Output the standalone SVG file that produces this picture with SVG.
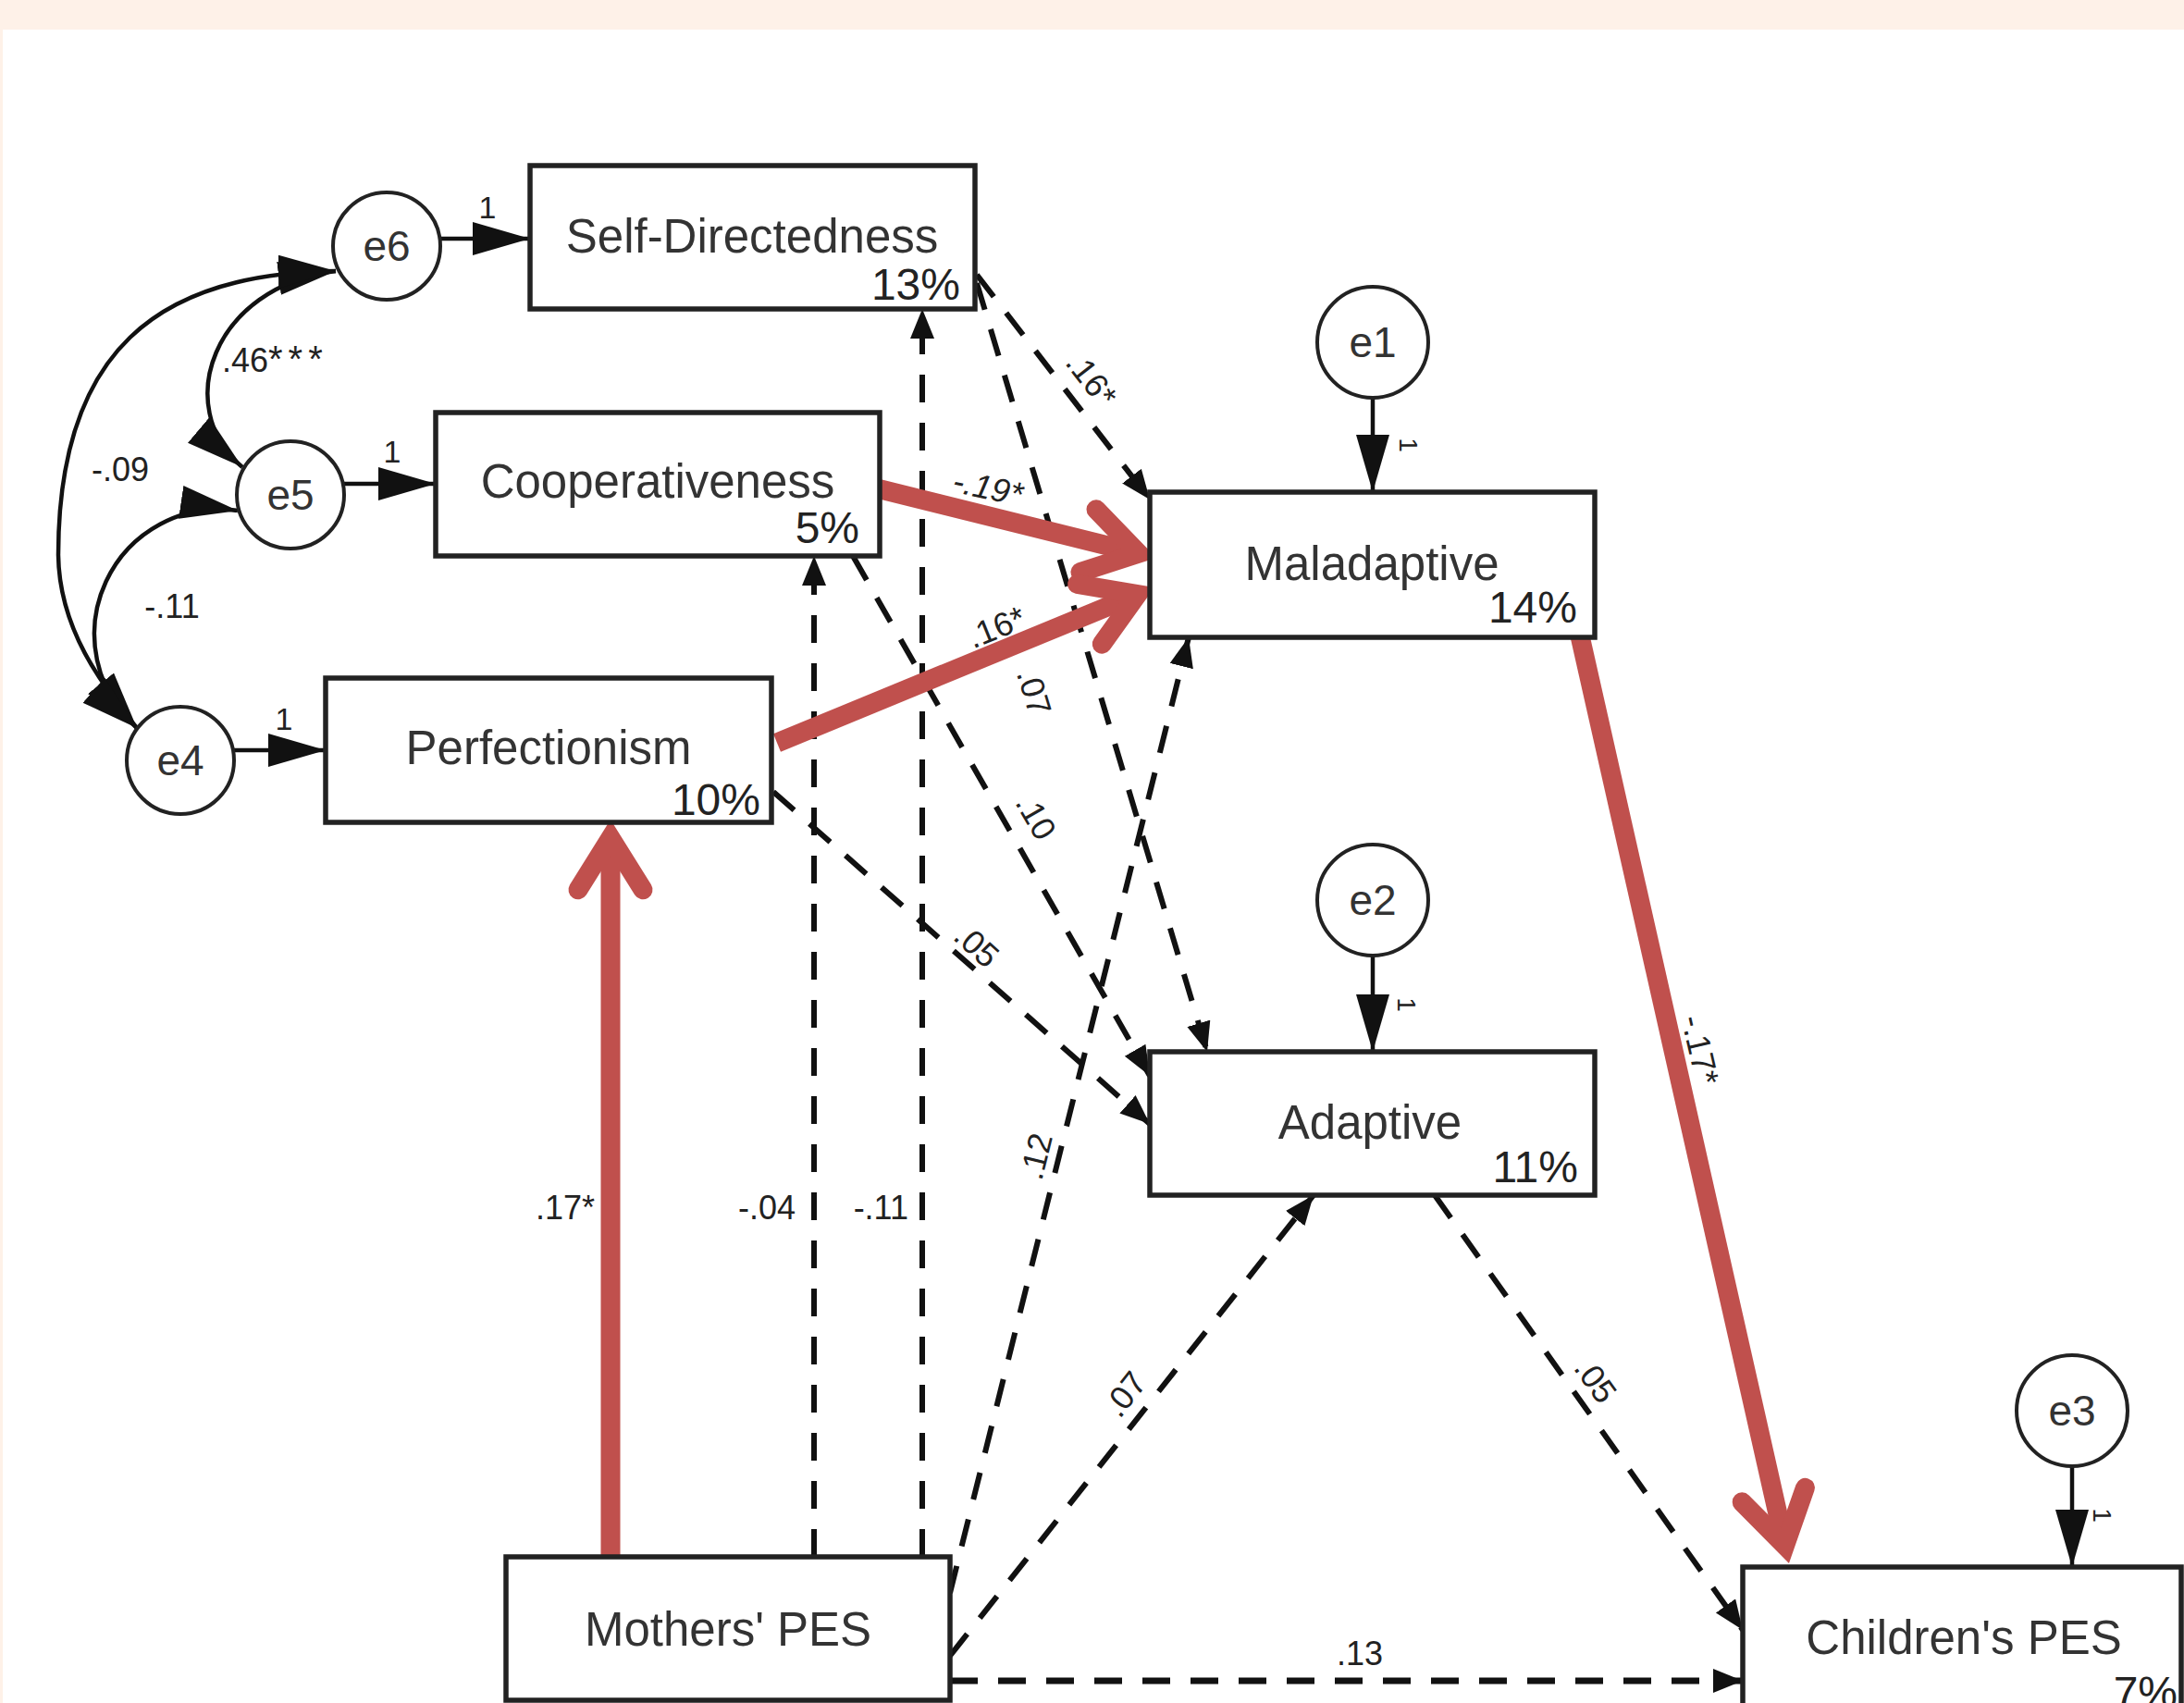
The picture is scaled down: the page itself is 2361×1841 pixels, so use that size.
<svg xmlns="http://www.w3.org/2000/svg" width="2361" height="1841" viewBox="0 0 2361 1841">
<defs>
<style>
.box{fill:#fff;stroke:#222;stroke-width:5.5}
.err{fill:#fff;stroke:#222;stroke-width:4}
.nl{font-family:"Liberation Sans",Arial,sans-serif;font-size:51px;fill:#333;text-anchor:middle}
.pc{font-family:"Liberation Sans",Arial,sans-serif;font-size:48px;fill:#222;text-anchor:end}
.el{font-family:"Liberation Sans",Arial,sans-serif;font-size:46px;fill:#333;text-anchor:middle}
.lb{font-family:"Liberation Sans",Arial,sans-serif;font-size:36px;fill:#222}
.rl{font-family:"Liberation Sans",Arial,sans-serif;font-size:36px;fill:#222;text-anchor:middle;dominant-baseline:central}
.solid{fill:none;stroke:#111;stroke-width:4.5}
.dash{fill:none;stroke:#111;stroke-width:6;stroke-dasharray:30 22}
.red{fill:none;stroke:#C0504D;stroke-width:21}
.chev{fill:none;stroke:#C0504D;stroke-width:21;stroke-linecap:round;stroke-linejoin:miter}
</style>
<marker id="big" markerUnits="userSpaceOnUse" markerWidth="66" markerHeight="38" refX="62" refY="18" orient="auto-start-reverse" viewBox="0 0 66 38">
<path d="M0,0 L62,18 L0,36 z" fill="#111"/>
</marker>
<marker id="sm" markerUnits="userSpaceOnUse" markerWidth="34" markerHeight="28" refX="32" refY="13" orient="auto" viewBox="0 0 34 28">
<path d="M0,0 L32,13 L0,26 z" fill="#111"/>
</marker>
</defs>
<rect x="0" y="0" width="2361" height="1841" fill="#fff"/>
<rect x="0" y="0" width="2361" height="32" fill="#FEF1E8"/>
<rect x="0" y="0" width="3" height="1841" fill="#FEF1E8"/>

<g id="connectors">
<!-- error to indicator -->
<line class="solid" x1="476" y1="258" x2="573" y2="258" marker-end="url(#big)"/>
<line class="solid" x1="372" y1="523" x2="471" y2="523" marker-end="url(#big)"/>
<line class="solid" x1="253" y1="811" x2="352" y2="811" marker-end="url(#big)"/>
<line class="solid" x1="1484" y1="430" x2="1484" y2="532" marker-end="url(#big)"/>
<line class="solid" x1="1484" y1="1033" x2="1484" y2="1137" marker-end="url(#big)"/>
<line class="solid" x1="2240" y1="1585" x2="2240" y2="1694" marker-end="url(#big)"/>
<!-- covariances -->
<path class="solid" d="M363,293 C230,310 185,440 262,505" marker-start="url(#big)" marker-end="url(#big)"/>
<path class="solid" d="M363,293 C170,295 63,380 63,600 C64,680 110,740 148,787" marker-start="url(#big)" marker-end="url(#big)"/>
<path class="solid" d="M257,552 A135,135 0 0 0 148,787" marker-start="url(#big)" marker-end="url(#big)"/>
<!-- dashed paths -->
<line class="dash" x1="1056" y1="297" x2="1243" y2="540" marker-end="url(#sm)"/>
<line class="dash" x1="1056" y1="306" x2="1305" y2="1137" marker-end="url(#sm)"/>
<line class="dash" x1="922" y1="601" x2="1243" y2="1163" marker-end="url(#sm)"/>
<line class="dash" x1="836" y1="856" x2="1243" y2="1215" marker-end="url(#sm)"/>
<line class="dash" x1="880" y1="1683" x2="880" y2="601" marker-end="url(#sm)"/>
<line class="dash" x1="997" y1="1683" x2="997" y2="334" marker-end="url(#sm)"/>
<line class="dash" x1="1027" y1="1722" x2="1285" y2="689" marker-end="url(#sm)"/>
<line class="dash" x1="1027" y1="1790" x2="1420" y2="1292" marker-end="url(#sm)"/>
<line class="dash" x1="1027" y1="1817" x2="1884" y2="1817" marker-end="url(#sm)" style="stroke-width:7"/>
<line class="dash" x1="1551" y1="1292" x2="1884" y2="1762" marker-end="url(#sm)"/>
<!-- red significant paths -->
<line class="red" x1="948" y1="528" x2="1230.8" y2="598.2"/>
<polyline class="chev" points="1185,550.7 1230.8,598.2 1168,618.5"/>
<line class="red" x1="840" y1="803" x2="1229.7" y2="642.5"/>
<polyline class="chev" points="1164.6,631.5 1229.7,642.5 1191.3,696.2"/>
<line class="red" x1="660" y1="1685" x2="660" y2="905.8"/>
<polyline class="chev" points="625,961.8 660,905.8 695,961.8"/>
<line class="red" x1="1707" y1="683" x2="1929.6" y2="1670.7"/>
<polyline class="chev" points="1951.4,1608.4 1929.6,1670.7 1883.2,1623.8"/>
<!-- labels -->
<text class="lb" x="527" y="236" text-anchor="middle" style="font-size:34px">1</text>
<text class="lb" x="424" y="500" text-anchor="middle" style="font-size:34px">1</text>
<text class="lb" x="307" y="789" text-anchor="middle" style="font-size:34px">1</text>
<text class="rl" transform="translate(1522,481) rotate(90)" style="font-size:28px">1</text>
<text class="rl" transform="translate(1520,1086) rotate(90)" style="font-size:28px">1</text>
<text class="rl" transform="translate(2272,1638) rotate(90)" style="font-size:28px">1</text>
<text class="lb" x="240" y="402">.46<tspan style="font-size:40px;letter-spacing:6px">***</tspan></text>
<text class="lb" x="130" y="520" text-anchor="middle">-.09</text>
<text class="lb" x="186" y="668" text-anchor="middle">-.11</text>
<text class="rl" transform="translate(1180,410) rotate(52)">.16*</text>
<text class="rl" transform="translate(1118,748) rotate(73)">.07</text>
<text class="rl" transform="translate(1120,883) rotate(60)">.10</text>
<text class="rl" transform="translate(1056,1022) rotate(42)">.05</text>
<text class="lb" x="860" y="1318" text-anchor="end">-.04</text>
<text class="lb" x="982" y="1318" text-anchor="end">-.11</text>
<text class="lb" x="643" y="1318" text-anchor="end">.17*</text>
<text class="rl" transform="translate(1120,1250) rotate(-76)">.12</text>
<text class="rl" transform="translate(1216,1507) rotate(-52)">.07</text>
<text class="lb" x="1470" y="1800" text-anchor="middle">.13</text>
<text class="rl" transform="translate(1725,1492) rotate(54)">.05</text>
<text class="rl" transform="translate(1068,527) rotate(12)" style="font-style:italic">-.19*</text>
<text class="rl" transform="translate(1077,678) rotate(-22)">.16*</text>
<text class="rl" transform="translate(1838,1135) rotate(77)">-.17*</text>
</g>

<g id="e6"><circle class="err" cx="418" cy="266" r="58"/><text class="el" x="418" y="282">e6</text></g>
<g id="e5"><circle class="err" cx="314" cy="535" r="58"/><text class="el" x="314" y="551">e5</text></g>
<g id="e4"><circle class="err" cx="195" cy="822" r="58"/><text class="el" x="195" y="838">e4</text></g>
<g id="e1"><circle class="err" cx="1484" cy="370" r="60"/><text class="el" x="1484" y="386">e1</text></g>
<g id="e2"><circle class="err" cx="1484" cy="973" r="60"/><text class="el" x="1484" y="989">e2</text></g>
<g id="e3"><circle class="err" cx="2240" cy="1525" r="60"/><text class="el" x="2240" y="1541">e3</text></g>

<g id="self-directedness"><rect class="box" x="573" y="179" width="481" height="155"/><text class="nl" x="813" y="273">Self-Directedness</text><text class="pc" x="1038" y="324">13%</text></g>
<g id="cooperativeness"><rect class="box" x="471" y="446" width="480" height="155"/><text class="nl" x="711" y="538">Cooperativeness</text><text class="pc" x="929" y="587">5%</text></g>
<g id="perfectionism"><rect class="box" x="352" y="733" width="482" height="156"/><text class="nl" x="593" y="826">Perfectionism</text><text class="pc" x="822" y="881">10%</text></g>
<g id="maladaptive"><rect class="box" x="1243" y="532" width="481" height="157"/><text class="nl" x="1483" y="627">Maladaptive</text><text class="pc" x="1705" y="673">14%</text></g>
<g id="adaptive"><rect class="box" x="1243" y="1137" width="481" height="155"/><text class="nl" x="1481" y="1231">Adaptive</text><text class="pc" x="1706" y="1278">11%</text></g>
<g id="mothers-pes"><rect class="box" x="547" y="1683" width="480" height="155"/><text class="nl" x="787" y="1779">Mothers' PES</text></g>
<g id="childrens-pes"><rect class="box" x="1884" y="1694" width="474" height="200"/><text class="nl" x="2123" y="1788">Children's PES</text><text class="pc" x="2354" y="1846">7%</text></g>
</svg>
